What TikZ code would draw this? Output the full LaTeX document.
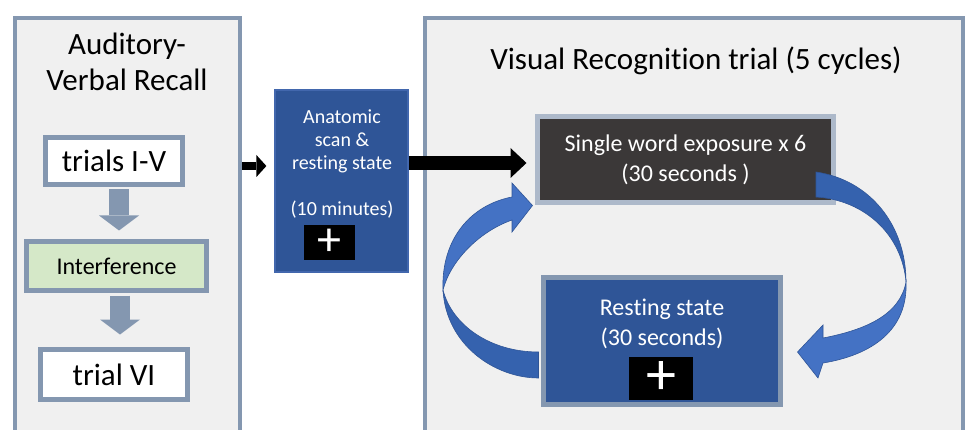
\documentclass[tikz,border=0pt]{standalone}
\usepackage{fontspec}
\setmainfont{Carlito}[Ligatures=NoCommon]
\usetikzlibrary{arrows.meta,calc}
\definecolor{bgray}{HTML}{8497B0}
\definecolor{panelfill}{HTML}{F0F0F0}
\definecolor{igreen}{HTML}{D5E8C8}
\definecolor{ablue}{HTML}{2F5597}
\definecolor{aedge}{HTML}{4267AD}
\definecolor{darkfill}{HTML}{3B3838}
\definecolor{darkedge}{HTML}{ADB9CA}
\definecolor{clight}{HTML}{4472C4}
\definecolor{cdark}{HTML}{3562AE}
\definecolor{cedge}{HTML}{2F5597}
\newcommand\fsz[2]{\fontsize{#1}{#2}\selectfont}
\begin{document}
\begin{tikzpicture}[x=1pt,y=-1pt,
  panel/.style={draw=bgray, line width=4pt, fill=panelfill, inner sep=0pt},
  tbox/.style={draw=bgray, line width=5pt, fill=white, inner sep=0pt, font=\fsz{31}{36}},
  gbox/.style={draw=bgray, line width=5pt, fill=igreen, inner sep=0pt, font=\fsz{24}{30}},
  abox/.style={draw=aedge, line width=1.2pt, fill=ablue, inner sep=0pt},
  dbox/.style={draw=darkedge, line width=5pt, fill=darkfill, inner sep=0pt, text=white, align=center},
  rbox/.style={draw=bgray, line width=5pt, fill=ablue, inner sep=0pt},
  pbox/.style={fill=black, inner sep=0pt, text=white},
  wtext/.style={text=white, align=center, inner sep=0pt},
  btext/.style={align=center, inner sep=0pt, font=\fsz{31}{36}},
  darr/.style={draw=bgray, line width=20pt, -{Triangle[length=15pt,width=40pt,line width=0pt]}},
  curv/.style={draw=cedge, line width=0.6pt}
]
\useasboundingbox (0,0) rectangle (968,430);
\clip (0,0) rectangle (968,430);
\fill[white] (0,0) rectangle (968,430);

% panels
\node[panel, minimum width=225pt, minimum height=422pt] (lp) at (127.5,229) {};
\node[panel, minimum width=538pt, minimum height=422pt] (rp) at (694,229) {};
\node[btext] (lpt) at (127,62) {Auditory-\\Verbal Recall};
\node[btext, anchor=base] (rpt) at (696,70) {Visual Recognition trial (5 cycles)};

% left column
\node[tbox, minimum width=137pt, minimum height=47pt] (t1) at (114,161) {trials I-V};
\node[gbox, minimum width=180pt, minimum height=49pt] (interf) at (116.5,266) {Interference};
\node[tbox, minimum width=147pt, minimum height=50pt] (t6) at (114,374.5) {trial VI};
\draw[darr, shorten >=8.5pt] ($(t1.south)+(5,2.5)$) -- ($(interf.north)+(2.5,0)$);
\draw[darr, shorten >=12.5pt] ($(interf.south)+(3.5,2.5)$) -- ($(t6.north)+(6,0)$);

% anatomic
\node[abox, minimum width=133pt, minimum height=182pt] (anat) at (341.5,181) {};
\node[wtext, font=\fsz{20}{23}] (anatt) at (342,164) {Anatomic\\scan \&\\resting state\\[23pt](10 minutes)};
\node[pbox, minimum width=51pt, minimum height=35pt, font=\fsz{48}{48}] (p1) at (329.5,242.5) {+};

% visual recognition
\node[dbox, minimum width=296pt, minimum height=86pt, font=\fsz{24}{30}] (dark) at (685.5,159.5) {Single word exposure x 6\\(30 seconds )};
\node[rbox, minimum width=237pt, minimum height=127pt] (rest) at (662,341) {};
\node[wtext, font=\fsz{24}{30}] (restt) at (662,324) {Resting state\\(30 seconds)};
\node[pbox, minimum width=64pt, minimum height=43pt, font=\fsz{60}{60}] (p2) at (661,378.5) {+};

% black arrows
\coordinate (ya) at (0,166);
\coordinate (yb) at (0,163);
\draw[black, line width=8pt, -{Triangle[length=10pt,width=22pt,line width=0pt]}, shorten >=8pt] (lp.east |- ya) -- (anat.west |- ya);
\draw[black, line width=14pt, -{Triangle[length=16pt,width=30pt,line width=0pt]}, shorten >=8.5pt] (anat.east |- yb) -- (dark.west |- yb);

% curved arrows
\coordinate (Ls1) at ($(rest.west)+(-2.5,37)$);
\coordinate (Ls2) at ($(rest.west)+(-2.5,11)$);
\coordinate (Lt) at ($(dark.south west)+(-2.5,0.5)$);
\filldraw[curv, fill=cdark] (Ls1) .. controls (495,378) and (446,345) .. (443,290) .. controls (452,325) and (490,352) .. (Ls2) -- cycle;
\filldraw[curv, fill=clight] (443,290) .. controls (441,240) and (470,205) .. (512,197) -- (512,183) -- (Lt) -- (512,232) -- (512,220) .. controls (478,232) and (450,262) .. (443,290) -- cycle;

\coordinate (Rs1) at ($(dark.east)+(-20,12.5)$);
\coordinate (Rs2) at ($(dark.east)+(-20,37.5)$);
\coordinate (Rt) at ($(rest.east)+(14.5,11)$);
\filldraw[curv, fill=cdark] (Rs1) .. controls (870,180) and (906,225) .. (906,282) .. controls (902,235) and (865,200) .. (Rs2) -- cycle;
\filldraw[curv, fill=clight] (906,282) .. controls (908,330) and (872,355) .. (823,363) -- (818,378) -- (Rt) -- (823,325) -- (823,338) .. controls (865,330) and (900,315) .. (906,282) -- cycle;
\end{tikzpicture}
\end{document}
